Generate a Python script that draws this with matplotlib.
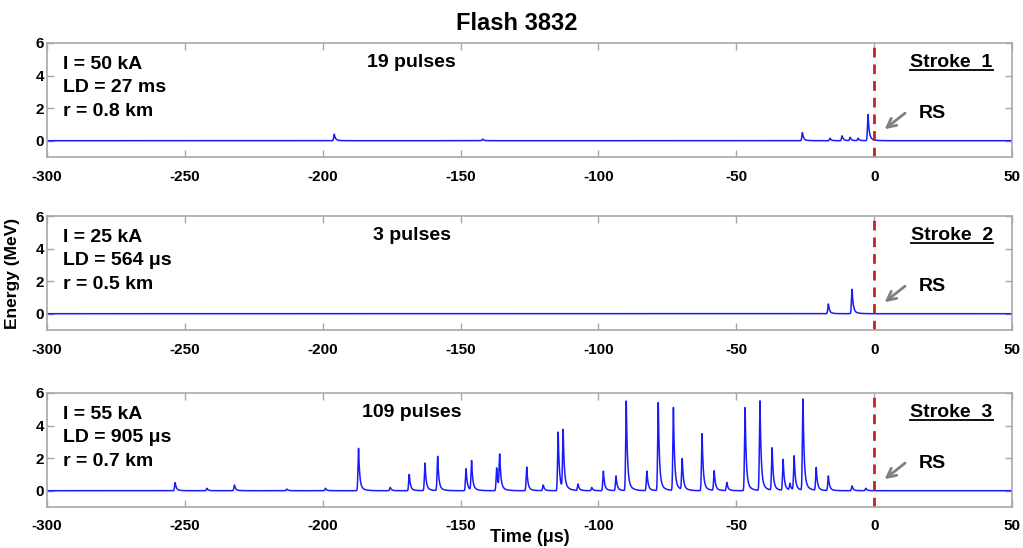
import numpy as np
import matplotlib
matplotlib.use("Agg")
import matplotlib.pyplot as plt

plt.rcParams['font.family'] = ['Liberation Sans', 'DejaVu Sans']
plt.rcParams['font.weight'] = 'bold'
plt.rcParams['axes.unicode_minus'] = False

# pulse times (us) and peak energies (MeV)
pulse_t1 = [-195.8, -142.0, -26.0, -16.0, -11.6, -8.7, -5.8, -2.2]
pulse_e1 = [0.4, 0.1, 0.5, 0.15, 0.3, 0.2, 0.15, 1.6]

pulse_t2 = [-16.6, -8.0]
pulse_e2 = [0.6, 1.5]

pulse_t3 = [-253.5, -242.0, -232.0, -213.0, -199.0, -187.0, -175.5, -168.6,
            -162.9, -158.3, -148.0, -146.0, -136.9, -135.8, -126.0, -120.0,
            -114.6, -112.8, -107.4, -102.4, -98.2, -93.6, -89.9, -82.4,
            -78.3, -72.8, -69.6, -62.4, -58.0, -53.4, -46.8, -41.4, -37.0,
            -33.0, -30.5, -29.0, -25.8, -21.0, -16.6, -8.0, -3.0]
pulse_e3 = [0.5, 0.15, 0.35, 0.1, 0.15, 2.6, 0.2, 1.0,
            1.7, 2.1, 1.35, 1.8, 1.4, 2.1, 1.45, 0.35,
            3.6, 3.6, 0.4, 0.2, 1.2, 0.9, 5.5, 1.2,
            5.4, 5.1, 1.9, 3.5, 1.2, 0.5, 5.1, 5.5, 2.6,
            1.9, 0.4, 2.1, 5.6, 1.4, 0.9, 0.3, 0.15]

strokes = ["Stroke  1", "Stroke  2", "Stroke  3"]
peak_current = ["I = 50 kA", "I = 25 kA", "I = 55 kA"]
leader_dur = ["LD = 27 ms", "LD = 564 \u03bcs", "LD = 905 \u03bcs"]
distance = ["r = 0.8 km", "r = 0.5 km", "r = 0.7 km"]
n_pulses = ["19 pulses", "3 pulses", "109 pulses"]

panels = [(pulse_t1, pulse_e1), (pulse_t2, pulse_e2), (pulse_t3, pulse_e3)]

t = np.arange(-300, 50.01, 0.05)


def trace(times, energies):
    # each detected pulse: fast rise, quick decay with a small tail
    y = np.zeros_like(t)
    for t0, e in zip(times, energies):
        dt = t - t0
        rise = np.exp(-(dt / 0.3) ** 2)
        fall = 0.88 * np.exp(-dt / 0.4) + 0.12 * np.exp(-dt / 1.5)
        y += e * np.where(dt < 0, rise, fall)
    return y


fig = plt.figure(figsize=(10.23, 5.48), dpi=100)
W, H = 1023.0, 548.0
tops = [43, 216, 393]
axes = []
grey = '#a8a8a8'
fs = 14

for i, (times, energies) in enumerate(panels):
    top = tops[i]
    ax = fig.add_axes([47 / W, 1 - (top + 114) / H, 965 / W, 114 / H])
    axes.append(ax)
    ax.plot(t, trace(times, energies), color='#1a1aff', lw=1.1)
    ax.axvline(0, color='#cc1f1f', lw=2.0, ls=(0, (3.5, 2.5)))
    ax.set_xlim(-300, 50)
    ax.set_ylim(-1, 6)
    ax.set_xticks(np.arange(-300, 51, 50))
    ax.set_yticks([0, 2, 4, 6])
    ax.tick_params(direction='in', length=5, width=1, color=grey,
                   top=True, right=True, labelsize=11)
    ax.tick_params(axis='x', pad=9)
    ax.tick_params(axis='y', pad=2)
    for s in ax.spines.values():
        s.set_color(grey)
        s.set_linewidth(1.2)

    ax.text(0.0166, 0.81, peak_current[i], transform=ax.transAxes,
            fontsize=fs, fontweight='bold', va='center')
    ax.text(0.0166, 0.61, leader_dur[i], transform=ax.transAxes,
            fontsize=fs, fontweight='bold', va='center')
    ax.text(0.0166, 0.40, distance[i], transform=ax.transAxes,
            fontsize=fs, fontweight='bold', va='center')
    ax.text(0.378, 0.83, n_pulses[i], transform=ax.transAxes,
            fontsize=fs, fontweight='bold', va='center', ha='center')
    ax.text(0.98, 0.83, strokes[i], transform=ax.transAxes,
            fontsize=fs, fontweight='bold', va='center', ha='right')
    ax.text(16, 1.65, "RS", fontsize=fs, fontweight='bold', va='center')
    ax.annotate("", xy=(3.0, 0.6), xytext=(12.0, 1.8),
                arrowprops=dict(arrowstyle='->', color='#808080', lw=2.0,
                                mutation_scale=16))

axes[1].set_ylabel("Energy (MeV)", fontsize=12.5, fontweight='bold')
axes[1].yaxis.set_label_coords(-0.028, 0.5)
axes[2].set_xlabel("Time (\u03bcs)", fontsize=13, fontweight='bold')
axes[2].xaxis.set_label_coords(0.5, -0.19)
fig.text(517 / W, 1 - 23 / H, "Flash 3832", fontsize=17, fontweight='bold',
         ha='center', va='center')

# underline the stroke labels
fig.canvas.draw()
renderer = fig.canvas.get_renderer()
for ax in axes:
    lab = [tx for tx in ax.texts if tx.get_text().startswith("Stroke")][0]
    bb = lab.get_window_extent(renderer).transformed(ax.transAxes.inverted())
    ax.plot([bb.x0, bb.x1], [bb.y0 + 0.01, bb.y0 + 0.01], color='black',
            lw=1.3, transform=ax.transAxes, clip_on=False)

fig.savefig("out.png", dpi=100)
